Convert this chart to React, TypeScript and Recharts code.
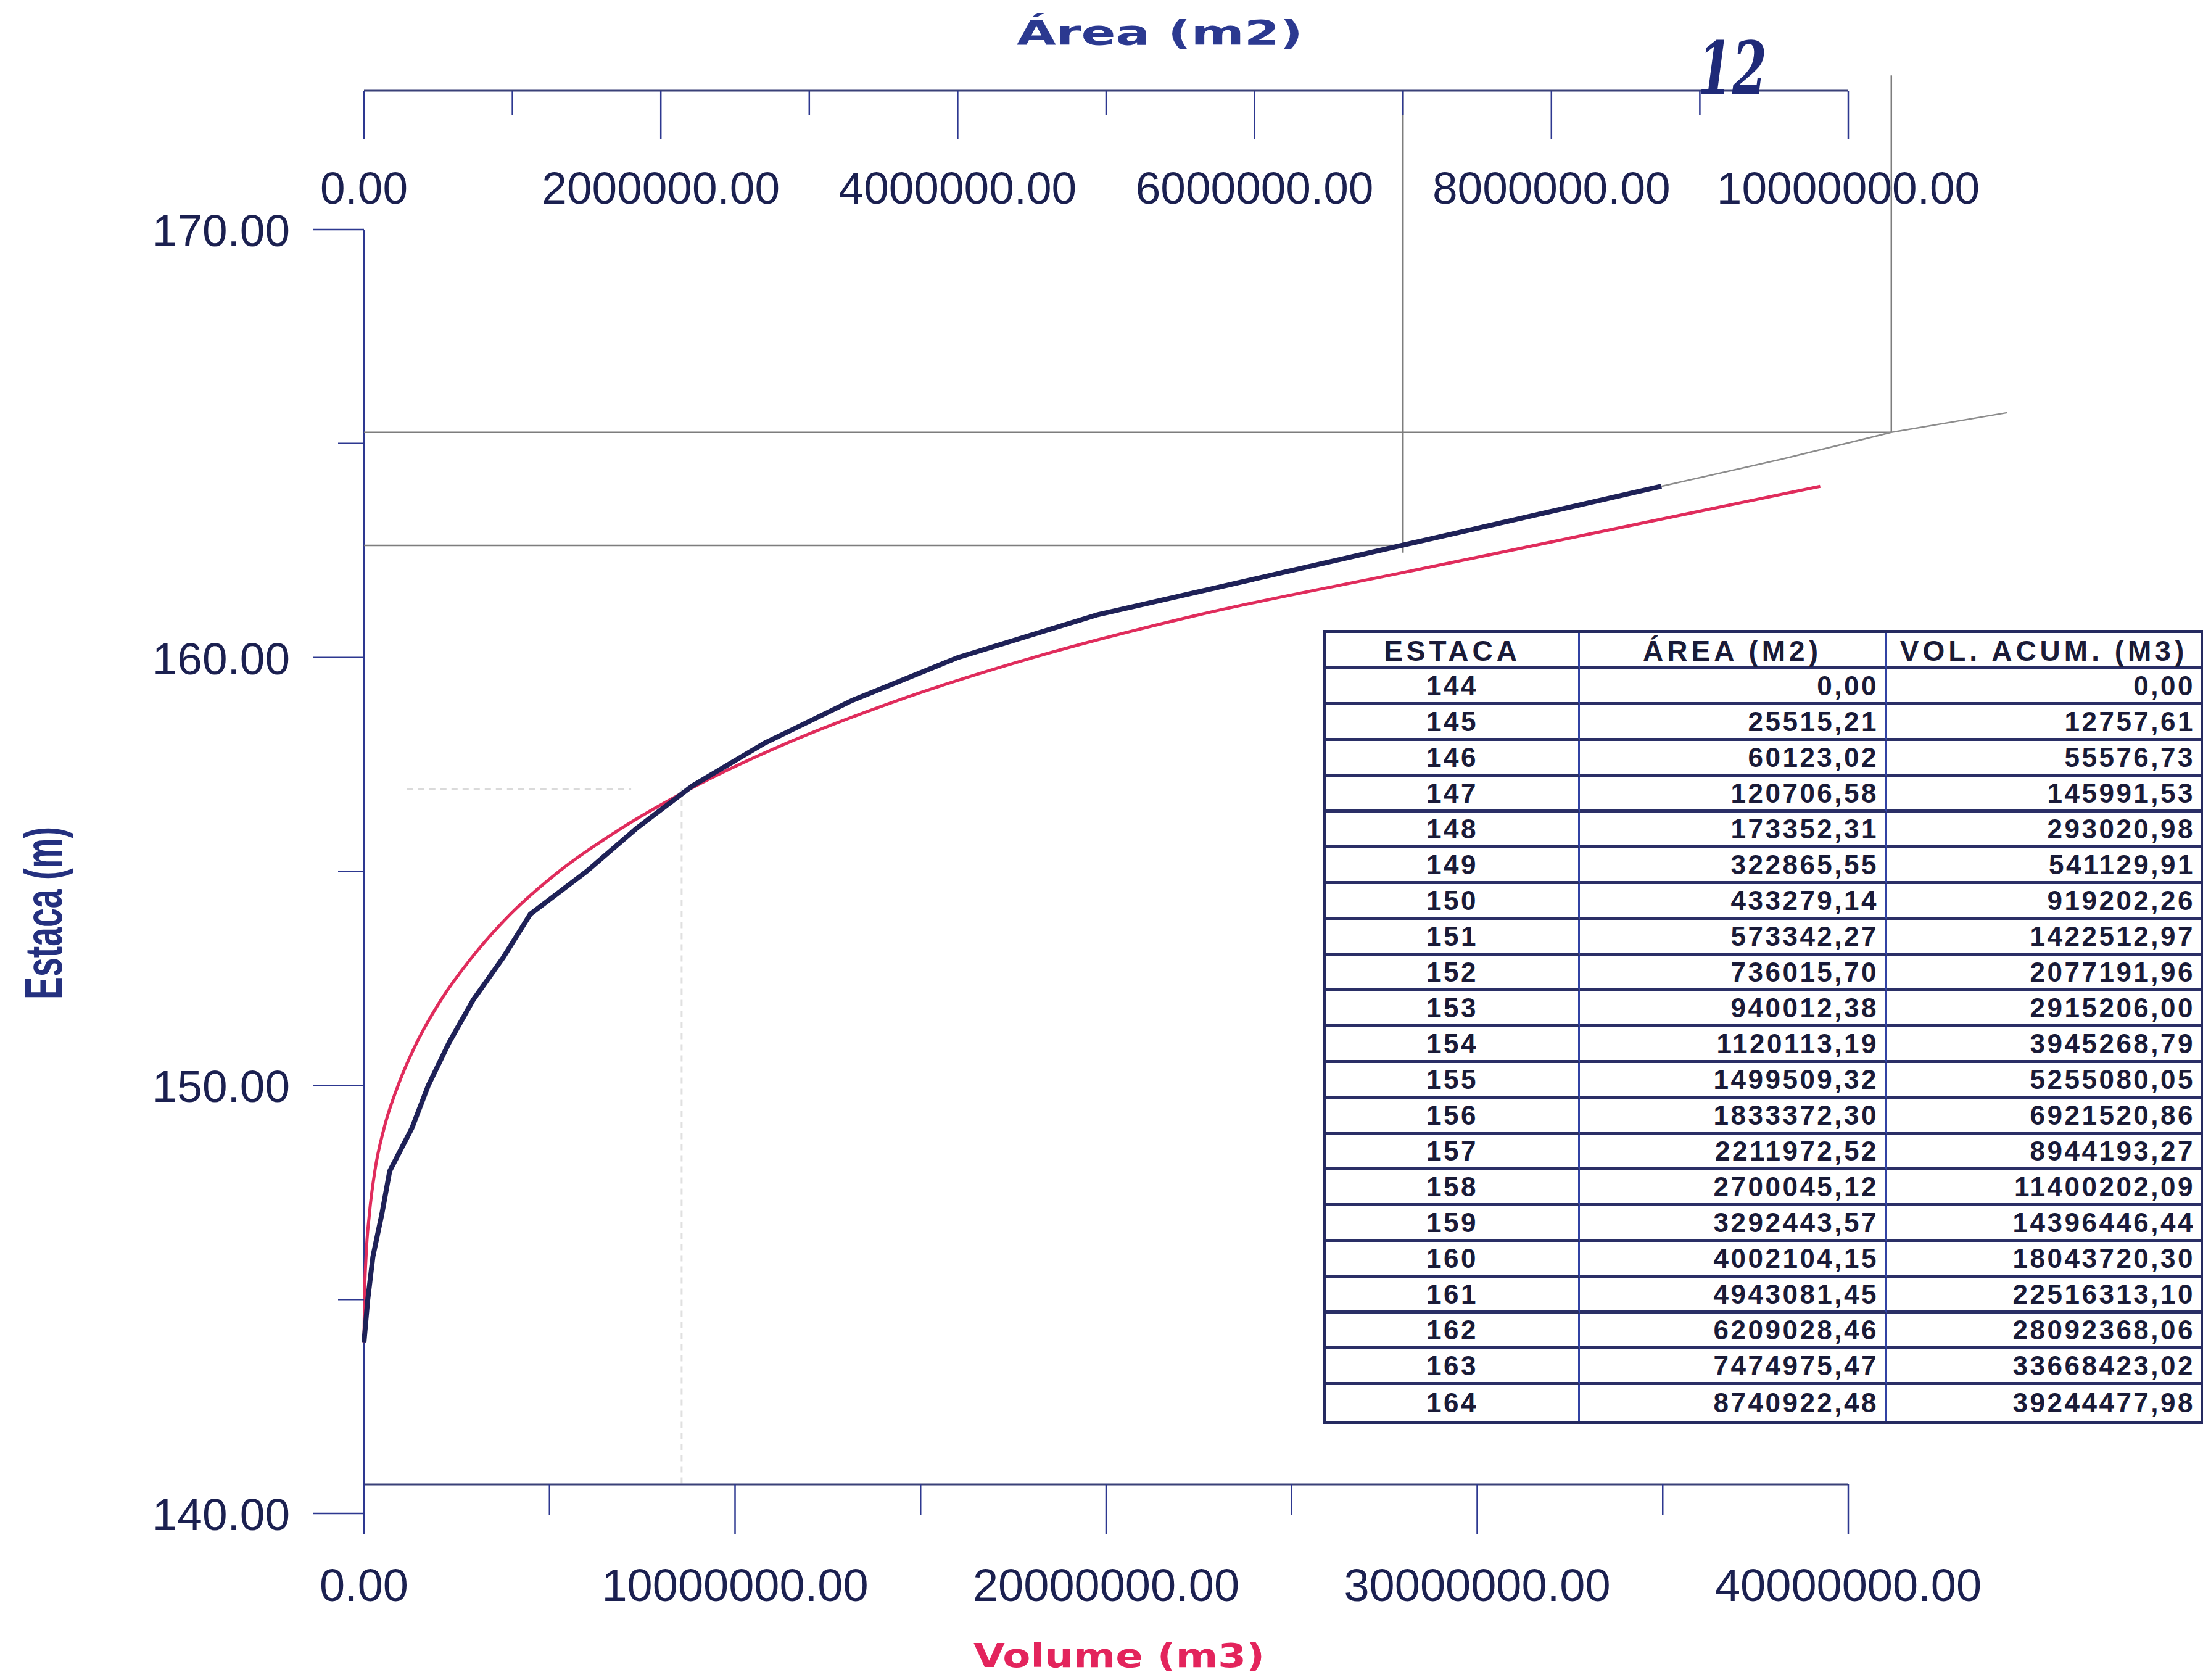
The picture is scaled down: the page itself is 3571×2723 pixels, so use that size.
import React from 'react';
import { LineChart, Line, XAxis, YAxis, ReferenceLine } from 'recharts';

const estacas = [144, 145, 146, 147, 148, 149, 150, 151, 152, 153, 154, 155, 156, 157, 158, 159, 160, 161, 162, 163, 164];
const areas = [
  0, 25515.21, 60123.02, 120706.58, 173352.31, 322865.55, 433279.14, 573342.27, 736015.7, 940012.38,
  1120113.19, 1499509.32, 1833372.3, 2211972.52, 2700045.12, 3292443.57, 4002104.15, 4943081.45,
  6209028.46, 7474975.47, 8740922.48,
];
const volumes = [
  0, 12757.61, 55576.73, 145991.53, 293020.98, 541129.91, 919202.26, 1422512.97, 2077191.96, 2915206.0,
  3945268.79, 5255080.05, 6921520.86, 8944193.27, 11400202.09, 14396446.44, 18043720.3, 22516313.1,
  28092368.06, 33668423.02, 39244477.98,
];

const areaTicks = [0, 1000000, 2000000, 3000000, 4000000, 5000000, 6000000, 7000000, 8000000, 9000000, 10000000];
const volumeTicks = [0, 5000000, 10000000, 15000000, 20000000, 25000000, 30000000, 35000000, 40000000];
const estacaTicks = [140, 145, 150, 155, 160, 165, 170];

// hand-drawn reading guides (data units)
const guideAreas = [7000000, 10290000];
const guideEstacas = [162.62, 165.26];
const guideTopEstacas = [173.24, 173.6];
const guideBottomEstacas = [162.45, 165.26];
const extensionAreas = [8740922.48, 9560000, 10290000, 11070000];
const extensionEstacas = [164.0, 164.64, 165.26, 165.72];
const faintAreas = [290000, 1800000];
const faintEstaca = 156.93;
const faintVolume = 8560000;

const tableHeaders = ['ESTACA', 'ÁREA (M2)', 'VOL. ACUM. (M3)'];

const rows = estacas.map((e, i) => ({ estaca: e, area: areas[i], vol: volumes[i] }));

// ---------- layout ----------
const W = 3571;
const H = 2723;
const AXIS = '#2d3890';
const LABEL = '#1b2050';
const FONT = "'Liberation Sans', Arial, sans-serif";
const Y_DOMAIN: [number, number] = [140.6775, 173.2435];

const TopTick = (props: any) => {
  const { x, y, payload } = props;
  const v = payload.value as number;
  const major = Math.round(v / 1000000) % 2 === 0;
  return (
    <g>
      <line x1={x} x2={x} y1={y} y2={y + (major ? 78 : 40)} stroke={AXIS} strokeWidth={2.5} />
      {major && (
        <text x={x} y={y + 183} textAnchor="middle" fontSize={73} fontFamily={FONT} fill={LABEL}>
          {v.toFixed(2)}
        </text>
      )}
    </g>
  );
};

const BottomTick = (props: any) => {
  const { x, y, payload } = props;
  const v = payload.value as number;
  const major = Math.round(v / 5000000) % 2 === 0;
  return (
    <g>
      <line x1={x} x2={x} y1={y} y2={y + (major ? 80 : 50)} stroke={AXIS} strokeWidth={2.5} />
      {major && (
        <text x={x} y={y + 189} textAnchor="middle" fontSize={74} fontFamily={FONT} fill={LABEL}>
          {v.toFixed(2)}
        </text>
      )}
    </g>
  );
};

const LeftTick = (props: any) => {
  const { x, y, payload } = props;
  const v = payload.value as number;
  const major = Math.round(v) % 10 === 0;
  return (
    <g>
      <line x1={x - (major ? 82 : 42)} x2={x} y1={y} y2={y} stroke={AXIS} strokeWidth={2.5} />
      {major && (
        <text x={x - 120} y={y + 27} textAnchor="end" fontSize={73} fontFamily={FONT} fill={LABEL}>
          {v.toFixed(2)}
        </text>
      )}
    </g>
  );
};

const fmt = (v: number) => v.toFixed(2).replace('.', ',');

const DataTable = () => {
  const cellBase: React.CSSProperties = {
    boxSizing: 'border-box',
    display: 'flex',
    alignItems: 'center',
    fontFamily: FONT,
    fontWeight: 700,
    fontSize: 44,
    letterSpacing: 3.5,
    color: '#1a1b38',
    whiteSpace: 'nowrap',
  };
  const rowLine = '5px solid #2a2f66';
  const colLine = '3px solid #3142a3';
  const cells: React.ReactNode[] = [];
  tableHeaders.forEach((h, c) => {
    cells.push(
      <div
        key={'h' + c}
        style={{
          ...cellBase,
          justifyContent: 'center',
          borderBottom: rowLine,
          borderRight: c < 2 ? colLine : undefined,
          fontSize: 46,
          letterSpacing: 6,
          paddingTop: 4,
        }}
      >
        {h}
      </div>
    );
  });
  rows.forEach((r, i) => {
    const last = i === rows.length - 1;
    const vals = [String(r.estaca), fmt(r.area), fmt(r.vol)];
    vals.forEach((t, c) => {
      cells.push(
        <div
          key={i + '-' + c}
          style={{
            ...cellBase,
            justifyContent: c === 0 ? 'center' : 'flex-end',
            paddingRight: c === 0 ? 0 : 10,
            borderBottom: last ? undefined : rowLine,
            borderRight: c < 2 ? colLine : undefined,
          }}
        >
          {t}
        </div>
      );
    });
  });
  return (
    <div
      style={{
        position: 'absolute',
        left: 2145,
        top: 1021,
        display: 'grid',
        gridTemplateColumns: '411px 497px 510px',
        gridTemplateRows: '59px repeat(21, 58px)',
        border: '5px solid #252a60',
        background: '#ffffff',
      }}
    >
      {cells}
    </div>
  );
};

export default function App() {
  const guideStroke = '#7d7d7d';
  return (
    <div style={{ position: 'absolute', left: 0, top: 0, width: W, height: H, background: '#ffffff', overflow: 'hidden' }}>
      <LineChart width={W} height={H} data={rows} margin={{ top: 47, right: 575, bottom: 17, left: 0 }}>
        <XAxis
          xAxisId="area"
          orientation="top"
          type="number"
          dataKey="area"
          domain={[0, 10000000]}
          ticks={areaTicks}
          interval={0}
          height={100}
          tickSize={0}
          tickMargin={0}
          tickLine={false}
          axisLine={{ stroke: '#3a4178', strokeWidth: 3 }}
          tick={<TopTick />}
        />
        <XAxis
          xAxisId="vol"
          orientation="bottom"
          type="number"
          dataKey="vol"
          domain={[0, 40000000]}
          ticks={volumeTicks}
          interval={0}
          height={300}
          tickSize={0}
          tickMargin={0}
          tickLine={false}
          axisLine={{ stroke: '#3a4178', strokeWidth: 3 }}
          tick={<BottomTick />}
        />
        <YAxis
          type="number"
          domain={Y_DOMAIN}
          ticks={estacaTicks}
          interval={0}
          width={590}
          tickSize={0}
          tickMargin={0}
          tickLine={false}
          axisLine={false}
          tick={<LeftTick />}
        />

        {/* left axis line (from 170 down past 140) */}
        <ReferenceLine
          xAxisId="area"
          segment={[{ x: 0, y: 139.58 }, { x: 0, y: 170 }]}
          stroke={AXIS}
          strokeWidth={3}
          ifOverflow="visible"
        />

        {/* faint construction lines */}
        <ReferenceLine
          xAxisId="area"
          segment={[{ x: faintAreas[0], y: faintEstaca }, { x: faintAreas[1], y: faintEstaca }]}
          stroke="#dadada"
          strokeWidth={3}
          strokeDasharray="10 8"
          ifOverflow="visible"
        />
        <ReferenceLine
          xAxisId="vol"
          segment={[{ x: faintVolume, y: faintEstaca }, { x: faintVolume, y: Y_DOMAIN[0] }]}
          stroke="#e0e0e0"
          strokeWidth={3}
          strokeDasharray="10 8"
          ifOverflow="visible"
        />

        {/* hand-drawn reading guides */}
        {guideAreas.map((a, i) => (
          <ReferenceLine
            key={'gv' + i}
            xAxisId="area"
            segment={[{ x: a, y: guideTopEstacas[i] }, { x: a, y: guideBottomEstacas[i] }]}
            stroke={guideStroke}
            strokeWidth={2.5}
            ifOverflow="visible"
          />
        ))}
        {guideEstacas.map((e, i) => (
          <ReferenceLine
            key={'gh' + i}
            xAxisId="area"
            segment={[{ x: 0, y: e }, { x: guideAreas[i], y: e }]}
            stroke={guideStroke}
            strokeWidth={2.5}
            ifOverflow="visible"
          />
        ))}
        {extensionAreas.slice(0, -1).map((a, i) => (
          <ReferenceLine
            key={'ge' + i}
            xAxisId="area"
            segment={[
              { x: a, y: extensionEstacas[i] },
              { x: extensionAreas[i + 1], y: extensionEstacas[i + 1] },
            ]}
            stroke="#8c8c8c"
            strokeWidth={2.5}
            ifOverflow="visible"
          />
        ))}

        <Line
          xAxisId="vol"
          type="monotone"
          dataKey="estaca"
          stroke="#e02c5c"
          strokeWidth={5}
          dot={false}
          activeDot={false}
          isAnimationActive={false}
        />
        <Line
          xAxisId="area"
          type="linear"
          dataKey="estaca"
          stroke="#1e2157"
          strokeWidth={8}
          dot={false}
          activeDot={false}
          isAnimationActive={false}
        />
      </LineChart>

      <svg width={W} height={H} style={{ position: 'absolute', left: 0, top: 0, pointerEvents: 'none' }}>
        <text
          x={1880}
          y={72}
          textAnchor="middle"
          fontFamily="'DejaVu Sans', sans-serif"
          fontWeight={700}
          fontSize={55}
          textLength={464}
          lengthAdjust="spacingAndGlyphs"
          fill="#2b3990"
        >
          Área (m2)
        </text>
        <text
          x={1814}
          y={2702}
          textAnchor="middle"
          fontFamily="'DejaVu Sans', sans-serif"
          fontWeight={700}
          fontSize={54}
          textLength={472}
          lengthAdjust="spacingAndGlyphs"
          fill="#e3245c"
        >
          Volume (m3)
        </text>
        <text
          x={100}
          y={1480}
          transform="rotate(-90 100 1480)"
          textAnchor="middle"
          fontFamily={FONT}
          fontWeight={700}
          fontSize={86}
          textLength={280}
          lengthAdjust="spacingAndGlyphs"
          fill="#24307f"
        >
          Estaca (m)
        </text>
        <text
          x={2752}
          y={152}
          fontFamily="'DejaVu Serif', serif"
          fontStyle="italic"
          fontWeight={700}
          fontSize={118}
          textLength={112}
          lengthAdjust="spacingAndGlyphs"
          fill="#1f2a78"
        >
          12
        </text>
      </svg>

      <DataTable />
    </div>
  );
}
